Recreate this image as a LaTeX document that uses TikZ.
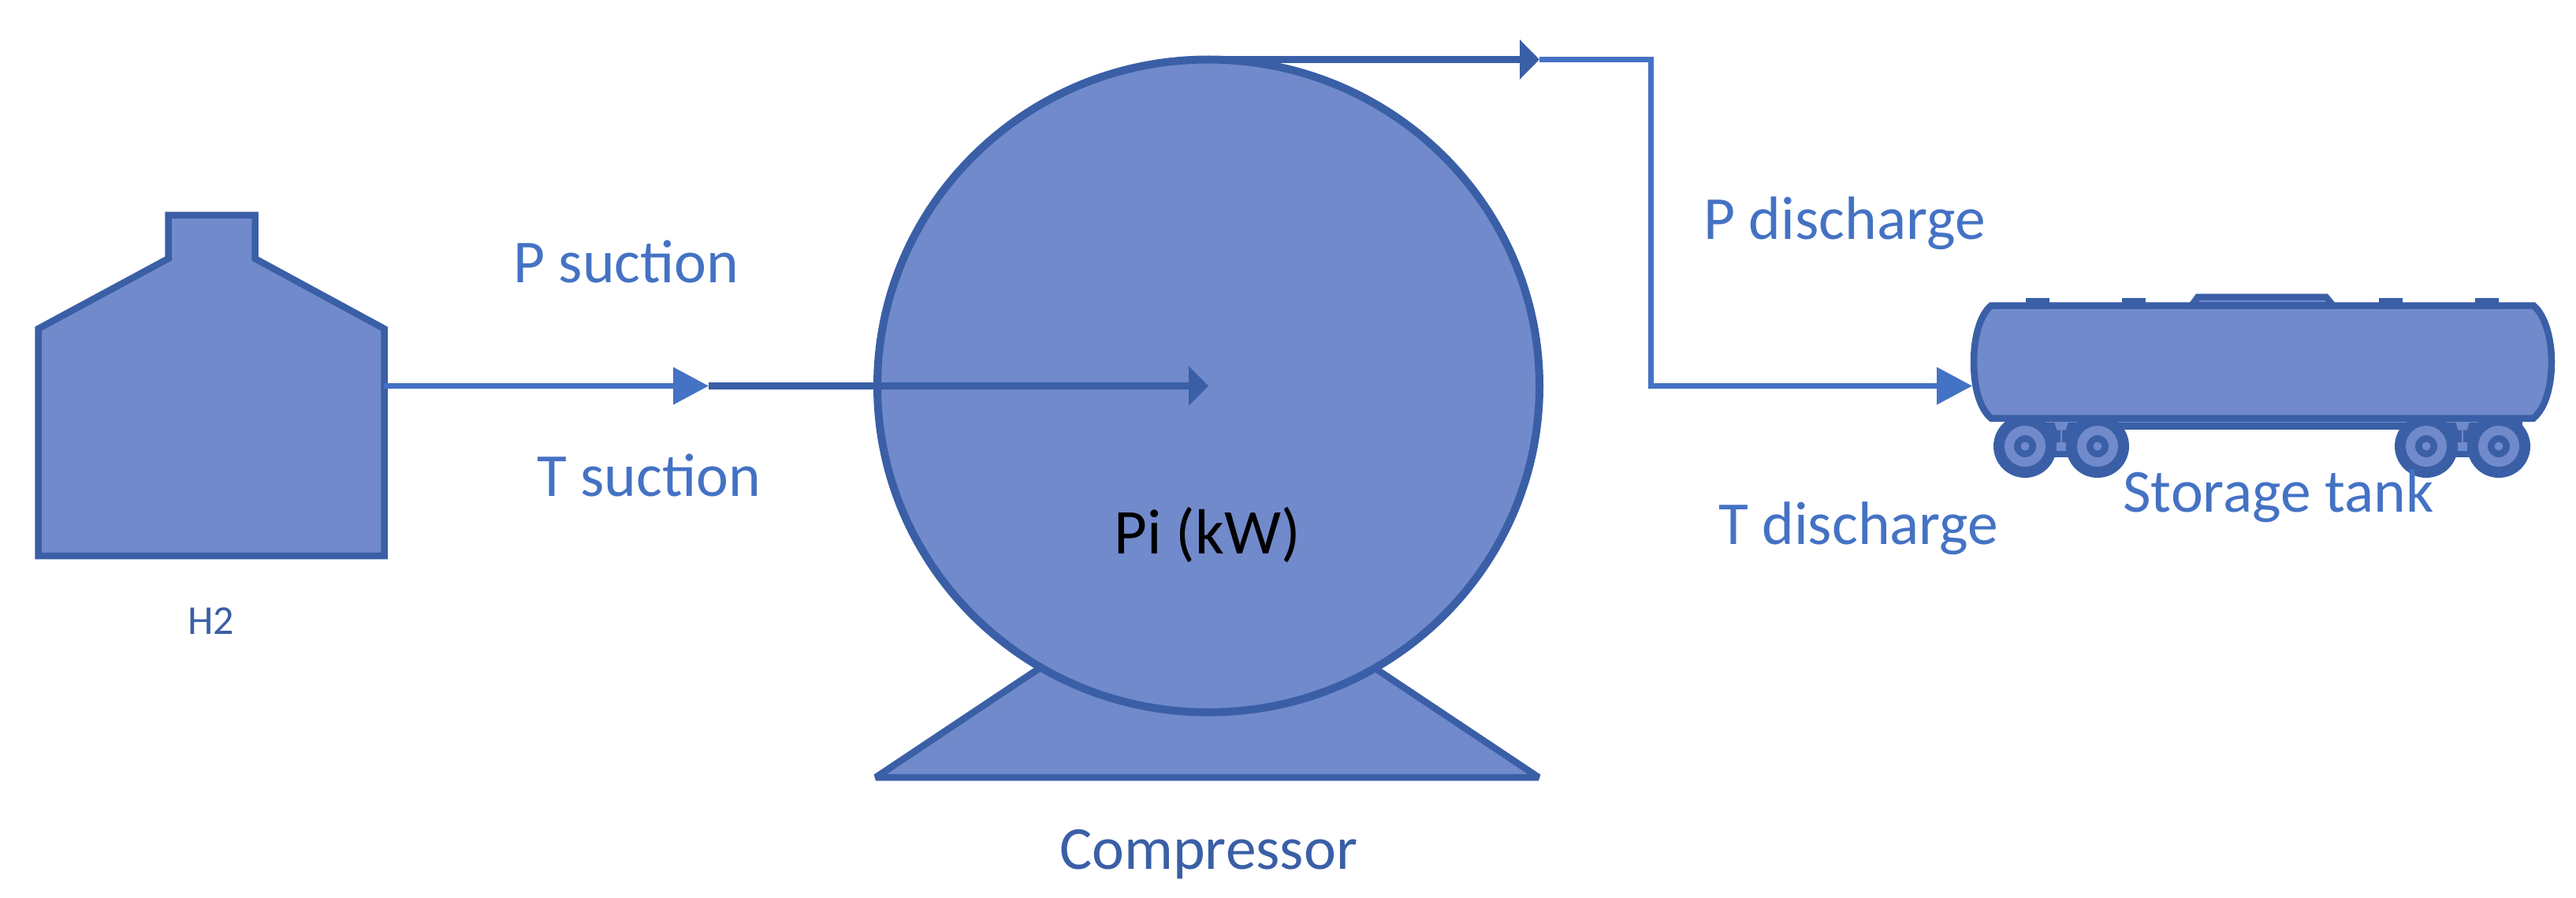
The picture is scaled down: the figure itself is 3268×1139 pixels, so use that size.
\documentclass[tikz,border=0pt]{standalone}
\usepackage{fontspec}
\setmainfont{Carlito}
\usetikzlibrary{arrows.meta,shapes.geometric}
\definecolor{shapefill}{HTML}{718ACB}
\definecolor{shapeline}{HTML}{3A5FA6}
\definecolor{accentblue}{HTML}{4472C4}
\tikzset{
  x=1pt,y=-1pt,
  solid shape/.style={draw=shapeline,fill=shapefill,line width=8.5pt,line join=miter},
  dark part/.style={fill=shapeline,draw=none},
  light part/.style={fill=shapefill,draw=none},
  thin light/.style={draw=shapefill,line width=1.2pt},
  blue flow/.style={draw=accentblue,line width=7pt,-{Triangle[length=45pt,width=46pt]},accentblue},
  dark flow/.style={draw=shapeline,line width=9pt,-{Triangle[length=25pt,width=49pt]},shapeline},
  lbl/.style={anchor=base west,inner sep=0pt,font=\fontsize{77.5}{92}\selectfont,text=accentblue},
  lbl dark/.style={lbl,text=shapeline},
  lbl black/.style={lbl,text=black,font=\fontsize{81}{95}\selectfont},
  lbl small/.style={anchor=base west,inner sep=0pt,font=\fontsize{52}{62}\selectfont,text=shapeline}
}
\begin{document}
\begin{tikzpicture}
\useasboundingbox[fill=white] (0,0) rectangle (3268,1139);

% H2 vessel
\draw[solid shape] (48.5,705) -- (48.5,417) -- (213.5,328) -- (213.5,273) -- (323.5,273) -- (323.5,328) -- (487.5,417) -- (487.5,705) -- cycle;

% Compressor base and body
\draw[solid shape,line join=bevel] (1111,986) -- (1330,840) -- (1733,840) -- (1952,986) -- cycle;
\node[ellipse,solid shape,line width=10pt,outer sep=0pt,minimum width=840pt,minimum height=828pt,inner sep=0pt] (comp) at (1533,489.5) {};

% Storage tank wagon
\fill[dark part] (2543,530) rectangle (3200,545);
\foreach \xa/\xb/\xm in {2569/2661/2615,3078/3170/3124}{
  \fill[dark part] (\xa,530) rectangle (\xb,580);
  \foreach \cx in {\xa,\xb}{
    \fill[dark part] (\cx,566) circle[radius=40];
    \fill[light part] (\cx,566) circle[radius=26];
    \fill[dark part] (\cx,566) circle[radius=14];
    \fill[light part] (\cx,566) circle[radius=5.5];
  }
  \fill[light part] (\xm-9,535) -- (\xm+9,535) -- (\xm+5.5,545.5) -- (\xm-5.5,545.5) -- cycle;
  \draw[thin light] (\xm,545) -- (\xm,561);
  \fill[light part] (\xm-6,561) rectangle (\xm+6,572);
  \draw[thin light] (\xm-20,535.5) -- (\xm+20,535.5);
}
\draw[thin light] (2687,535.5) -- (3053,535.5);
\foreach \hx in {2570,2692,3018,3140}{
  \fill[dark part] (\hx,378) rectangle (\hx+30,385);
}
\fill[dark part] (2777,385) -- (2786,372.7) -- (2953,372.7) -- (2963,385) -- cycle;
\draw[solid shape] (2526,387.5) -- (3214,387.5)
  .. controls (3229,400) and (3237,430) .. (3237,459)
  .. controls (3237,490) and (3229,518) .. (3214,530.5)
  -- (2526,530.5)
  .. controls (2511,518) and (2504,490) .. (2504,459)
  .. controls (2504,430) and (2511,400) .. (2526,387.5) -- cycle;
\draw[thin light] (2790,382) -- (2950,382);

% Connector end points
\coordinate (h2out) at (487,489.5);
\coordinate (sucmid) at (899,489.5);
\coordinate (dismid) at (1953,75.5);
\coordinate (elbowtop) at (2094,75.5);
\coordinate (elbowlow) at (2094,489.5);
\coordinate (tankin) at (2502,489.5);

% Connectors
\draw[blue flow] (h2out) -- (sucmid);
\draw[dark flow] (sucmid) -- (comp.center);
\draw[dark flow] (comp.north) -- (dismid);
\draw[blue flow,line join=miter] (dismid) -- (elbowtop) -- (elbowlow) -- (tankin);

% Labels
\node[lbl] (psuc) at (651,358.5) {P suction};
\node[lbl] (tsuc) at (681,629) {T suction};
\node[lbl] (pdis) at (2161,304) {P discharge};
\node[lbl] (tdis) at (2180,690) {T discharge};
\node[lbl black] (pikw) at (1413,702) {Pi (kW)};
\node[lbl small] (h2lab) at (238,804.5) {H2};
\node[lbl dark] (complab) at (1344,1102.5) {Compressor};
\node[lbl] (storlab) at (2693,649) {Storage tank};
\end{tikzpicture}
\end{document}
